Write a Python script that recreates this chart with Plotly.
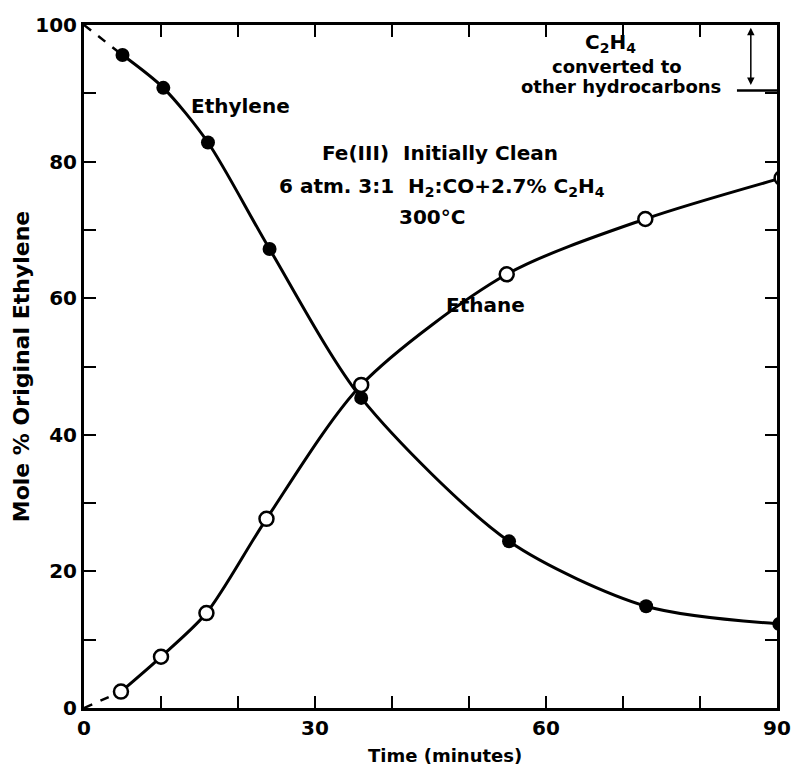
import plotly.graph_objects as go

# Data
time_min = [5, 10.3, 16.1, 24.1, 36.0, 55.2, 73.0, 90.3]
ethylene = [95.6, 90.8, 82.8, 67.2, 45.4, 24.4, 14.9, 12.3]
time_ethane = [4.8, 10.0, 15.9, 23.7, 36.0, 54.9, 72.9, 90.6]
ethane = [2.4, 7.5, 13.9, 27.7, 47.3, 63.5, 71.6, 77.6]

x_tick_vals = [0, 10, 20, 30, 40, 50, 60, 70, 80, 90]
x_tick_text = ["0", "", "", "30", "", "", "60", "", "", "90"]
y_tick_vals = [0, 10, 20, 30, 40, 50, 60, 70, 80, 90, 100]
y_tick_text = ["0", "", "20", "", "40", "", "60", "", "80", "", "100"]

FONT = "DejaVu Sans"

fig = go.Figure()

# dashed extrapolations to origin
fig.add_trace(go.Scatter(x=[0, time_min[0]], y=[100, ethylene[0]], mode="lines",
                         line=dict(color="black", width=2.5, dash="dash"), showlegend=False))
fig.add_trace(go.Scatter(x=[0, time_ethane[0]], y=[0, ethane[0]], mode="lines",
                         line=dict(color="black", width=2.5, dash="dash"), showlegend=False))

fig.add_trace(go.Scatter(x=time_min, y=ethylene, mode="lines+markers", name="Ethylene",
                         line=dict(color="black", width=3, shape="spline", smoothing=0.8),
                         marker=dict(symbol="circle", size=14, color="black"),
                         showlegend=False))
fig.add_trace(go.Scatter(x=time_ethane, y=ethane, mode="lines+markers", name="Ethane",
                         line=dict(color="black", width=3, shape="spline", smoothing=0.8),
                         marker=dict(symbol="circle", size=14, color="white",
                                     line=dict(color="black", width=2.5)),
                         showlegend=False))

fig.update_xaxes(range=[0, 90], tickvals=x_tick_vals, ticktext=x_tick_text,
                 ticks="inside", ticklen=12, tickwidth=2, tickcolor="black",
                 showline=True, linewidth=3, linecolor="black", mirror="ticks",
                 showgrid=False, zeroline=False, automargin=False,
                 tickfont=dict(family=FONT, size=20, color="black", weight="bold"))
fig.update_yaxes(range=[0, 100], tickvals=y_tick_vals, ticktext=y_tick_text,
                 ticks="inside", ticklen=12, tickwidth=2, tickcolor="black",
                 showline=True, linewidth=3, linecolor="black", mirror="ticks",
                 showgrid=False, zeroline=False, automargin=False,
                 tickfont=dict(family=FONT, size=20, color="black", weight="bold"),
                 title=dict(text="<b>Mole % Original Ethylene</b>", font=dict(family=FONT, size=22, color="black"),
                            standoff=0))

txt = dict(family=FONT, size=20, color="black")
small = dict(family=FONT, size=18, color="black")
ann = [
    dict(x=20.3, y=88.1, text="<b>Ethylene</b>"),
    dict(x=46.2, y=81.3, text="<b>Fe(III)  Initially Clean</b>"),
    dict(x=46.5, y=76.3, text="<b>6 atm. 3:1  H<sub>2</sub>:CO+2.7% C<sub>2</sub>H<sub>4</sub></b>"),
    dict(x=45.2, y=71.9, text="<b>300°C</b>"),
    dict(x=52.2, y=59.0, text="<b>Ethane</b>"),
    dict(x=68.4, y=97.4, text="<b>C<sub>2</sub>H<sub>4</sub></b>"),
    dict(x=69.2, y=93.9, text="<b>converted to</b>", font=small),
    dict(x=69.8, y=91.0, text="<b>other hydrocarbons</b>", font=small),
]
for a in ann:
    a.setdefault("font", txt)
    a.update(xref="x", yref="y", showarrow=False)
# x-axis title
ann.append(dict(x=46.9, y=-0.07, xref="x", yref="paper", yanchor="middle", showarrow=False,
                text="<b>Time (minutes)</b>", font=dict(family=FONT, size=18, color="black")))
fig.update_layout(annotations=ann)

# double-headed arrow for converted fraction
fig.add_annotation(x=86.6, y=99.6, ax=86.6, ay=91.0, xref="x", yref="y", axref="x", ayref="y",
                   showarrow=True, arrowhead=2, startarrowhead=2, arrowside="end+start",
                   arrowwidth=1.5, arrowsize=1, startarrowsize=1, arrowcolor="black", text="")
fig.add_shape(type="line", x0=84.8, x1=90, y0=90.4, y1=90.4, xref="x", yref="y",
              line=dict(color="black", width=2.5))

fig.update_layout(width=792, height=770, margin=dict(l=84, r=15, t=25, b=62),
                  plot_bgcolor="white", paper_bgcolor="white",
                  font=dict(family=FONT, color="black"))

fig.write_html("out.html")
